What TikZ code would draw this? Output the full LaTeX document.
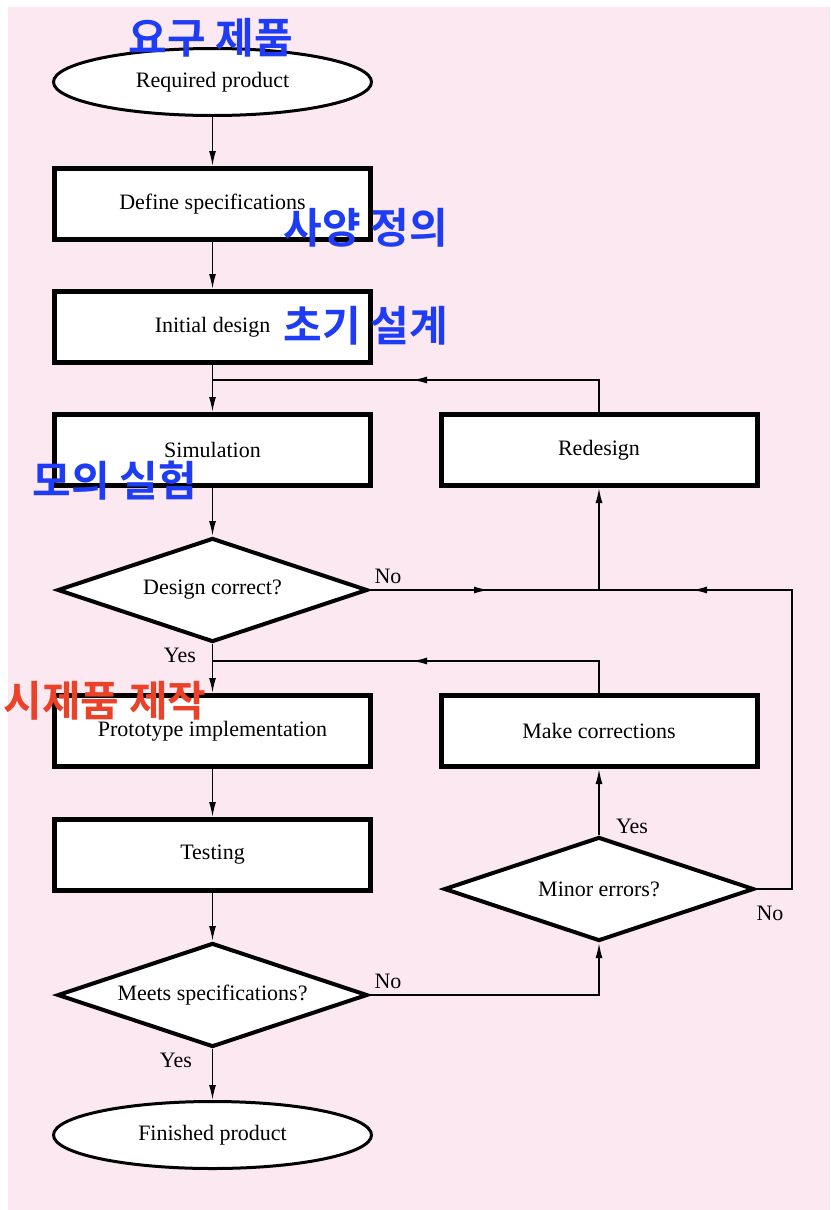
\documentclass[tikz,border=0pt]{standalone}
\usepackage{fontspec}
\setmainfont{Liberation Serif}
\newfontfamily\kr{Noto Sans CJK KR}[BoldFont={Noto Sans CJK KR Bold}]
\usetikzlibrary{shapes.geometric,arrows.meta}
\definecolor{bgpink}{RGB}{252,232,241}
\definecolor{krblue}{RGB}{30,60,245}
\definecolor{krred}{RGB}{235,65,40}
\begin{document}
\begin{tikzpicture}[x=1pt,y=-1pt,
  font=\fontsize{22}{26}\selectfont,
  box/.style={draw, line width=5pt, fill=white, minimum width=316pt, minimum height=71pt, inner sep=0pt},
  term/.style={draw, ellipse, line width=3pt, fill=white, minimum width=318pt, minimum height=67pt, inner sep=0pt},
  decision/.style={draw, diamond, aspect=3, line width=4pt, fill=white, minimum width=310pt, minimum height=104pt, inner sep=0pt},
  line/.style={line width=1.6pt},
  flow/.style={line, -{Latex[length=15pt,width=7pt]}},
  note/.style={font=\kr\bfseries\fontsize{42}{44}\selectfont}]
\def \lx {212.5} % left column
\def \rx {599}   % right column
\useasboundingbox (0,0) rectangle (830,1210);
\fill[bgpink] (8,7) rectangle (830,1210);

% left column
\node[term] (req) at (\lx,82) {Required product};
\foreach \name/\y/\txt in {define/204/Define specifications, init/327/Initial design,
  sim/450/Simulation, proto/731/Prototype implementation, testing/855/Testing}
{
  \node[box] (\name) at (\lx,\y) {\txt};
}
\node[decision] (dc) at (\lx,590) {Design correct?};
\node[decision] (meets) at (\lx,995) {Meets specifications?};
\node[term] (fin) at (\lx,1135) {Finished product};

% right column
\node[box] (redesign) at (\rx,450) {Redesign};
\node[box] (corr) at (\rx,731) {Make corrections};
\node[decision] (minor) at (\rx,889) {Minor errors?};

\foreach \a/\b in {req/define, define/init, init/sim, sim/dc, dc/proto, proto/testing, testing/meets, meets/fin}
  \draw[flow] (\a) -- (\b);

% feedback loops
\coordinate (loopR) at (412,380);
\coordinate (joinR) at (\lx,380);
\coordinate (noA) at (489,590);
\coordinate (hub) at (\rx,590);
\coordinate (corner) at (792,590);
\coordinate (noB) at (692,590);
\coordinate (loopM) at (412,661);
\coordinate (joinM) at (\lx,661);
\draw[line] (redesign.north) |- (joinR);
\draw[flow] (redesign.north) |- (loopR);
\draw[line] (dc.east) -- (hub);
\draw[flow] (dc.east) -- (noA);
\draw[flow] (hub) -- (redesign.south);
\draw[line] (minor.east) -| (corner) -- (hub);
\draw[flow] (minor.east) -| (corner) -- (noB);
\draw[line] (corr.north) |- (joinM);
\draw[flow] (corr.north) |- (loopM);
\draw[flow] (meets.east) -| (minor.south);
\draw[flow] (minor) -- (corr);

% yes / no labels
\node (noDC) at (388,576) {No};
\node (yesDC) at (180,655) {Yes};
\node (yesMin) at (632,826) {Yes};
\node (noMin) at (770,913) {No};
\node (noMeets) at (388,981) {No};
\node (yesMeets) at (176,1060) {Yes};

% korean notes
\node[note, text=krblue] (nReq) at (211,38) {요구 제품};
\node[note, text=krblue] (nDef) at (366,228) {사양 정의};
\node[note, text=krblue] (nInit) at (366,326) {초기 설계};
\node[note, text=krblue] (nSim) at (115,481) {모의 실험};
\node[note, text=krred] (nProto) at (105,701) {시제품 제작};
\end{tikzpicture}
\end{document}
